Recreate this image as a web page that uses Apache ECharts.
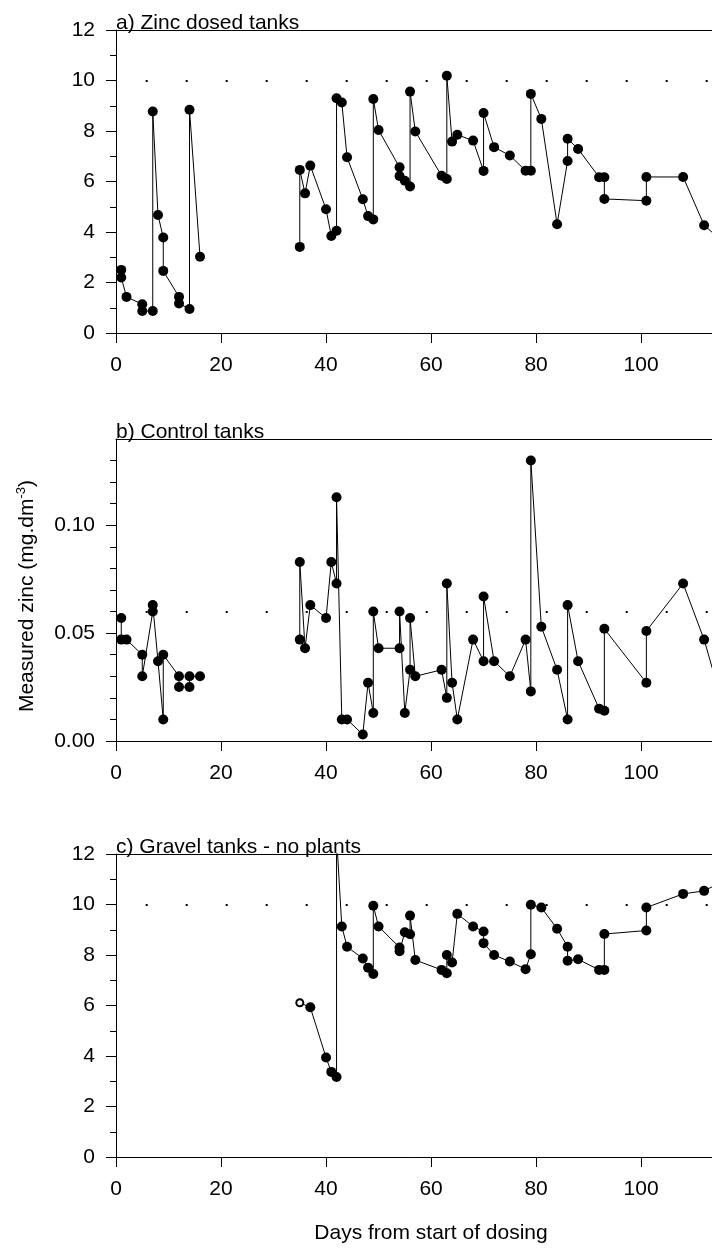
<!DOCTYPE html>
<html><head><meta charset="utf-8">
<script src="https://cdn.jsdelivr.net/npm/echarts@6/dist/echarts.min.js"></script>
<style>html,body{margin:0;padding:0;background:#fff}#c{width:712px;height:1250px}</style>
</head><body><div id="c"></div>
<script>
// ---- data ----
const xTicks = [0, 20, 40, 60, 80, 100];
const yTicksA = [0, 2, 4, 6, 8, 10, 12];
const yMinorA = [1, 3, 5, 7, 9, 11];
const yTicksB = [0, 0.05, 0.10];
const yMinorB = [0.01, 0.02, 0.03, 0.04, 0.06, 0.07, 0.08, 0.09, 0.11, 0.12, 0.13];
const yTicksC = [0, 2, 4, 6, 8, 10, 12];
const yMinorC = [1, 3, 5, 7, 9, 11];
const titles = ['a) Zinc dosed tanks', 'b) Control tanks', 'c) Gravel tanks - no plants'];
const xName = 'Days from start of dosing';
const guideA = 10, guideB = 0.06, guideC = 10;

const daysA = [1,1,2,5,5,7,7,8,9,9,12,12,14,14,16, null,
  35,35,36,37,40,41,42,42,43,44, 47,48,49,49,50,54,54,55,56,56,
  57,62,63,63,64,65,68,70,70,72, 75,78,79,79,81,84,86,86,88,92,
  93,93,101,101,108,112,114];
const zincA = [2.5,2.2,1.43,1.14,0.87,0.87,8.77,4.67,3.78,2.46,1.43,1.17,0.95,8.84,3.02, null,
  3.41,6.46,5.53,6.63,4.9,3.84,4.05,9.3,9.13,6.96, 5.3,4.63,4.5,9.27,8.04,6.56,6.22,6.03,5.8,9.56,
  7.98,6.23,6.1,10.19,7.58,7.85,7.62,6.42,8.71,7.36, 7.03,6.43,6.43,9.47,8.48,4.31,6.81,7.69,7.29,6.17,
  6.17,5.31,5.24,6.18,6.18,4.27,3.9];

const daysB = [1,1,2,5,5,7,7,8,9,9,12,12,14,14,16, null,
  35,35,36,37,40,41,42,42,43,44, 47,48,49,49,50,54,54,55,56,56,
  57,62,63,63,64,65,68,70,70,72, 75,78,79,79,81,84,86,86,88,92,
  93,93,101,101,108,112,114,114];
const zincB = [0.057,0.047,0.047,0.040,0.030,0.060,0.063,0.037,0.010,0.040,0.030,0.025,0.025,0.030,0.030, null,
  0.047,0.083,0.043,0.063,0.057,0.083,0.073,0.113,0.010,0.010, 0.003,0.027,0.013,0.060,0.043,0.043,0.060,0.013,0.033,0.057,
  0.030,0.033,0.020,0.073,0.027,0.010,0.047,0.037,0.067,0.037, 0.030,0.047,0.023,0.130,0.053,0.033,0.010,0.063,0.037,0.015,
  0.014,0.052,0.027,0.051,0.073,0.047,0.030,0.106];

const daysC = [35,37,40,41,42,42,43,44,47,48, 49,49,50,54,54,55,56,56,57,62,
  63,63,64,65,68,70,70,72,75,78, 79,79,81,84,86,86,88,92,93,93, 101,101,108,112,114];
const zincC = [6.11,5.93,3.94,3.37,3.17,12.7,9.13,8.33,7.86,7.5, 7.25,9.95,9.13,8.3,8.15,8.9,8.82,9.56,7.8,7.41,
  7.28,8.0,7.7,9.63,9.13,8.93,8.47,8.0,7.74,7.44, 8.03,9.99,9.88,9.04,8.33,7.77,7.83,7.41,7.41,8.83,
  8.97,9.88,10.42,10.54,10.75];
const openIdxC = [0]; // open (hollow) marker

// ---- build ----
const FONT = 'Liberation Sans';
const FS = 21;
const XMAX = 113.5;
const gridDefs = [{top: 30, height: 303}, {top: 439, height: 302}, {top: 854, height: 303}];
const yDefs = [
  {max: 12, ticks: yTicksA, minor: yMinorA, fmt: v => String(v)},
  {max: 0.14, ticks: yTicksB, minor: yMinorB, fmt: v => Number(v).toFixed(2)},
  {max: 12, ticks: yTicksC, minor: yMinorC, fmt: v => String(v)}
];
const panels = [
  {days: daysA, vals: zincA, guide: guideA, open: []},
  {days: daysB, vals: zincB, guide: guideB, open: []},
  {days: daysC, vals: zincC, guide: guideC, open: openIdxC}
];

const grid = [], xAxis = [], yAxis = [], series = [], graphic = [];
gridDefs.forEach((g, i) => {
  grid.push({left: 116, right: 0, top: g.top, height: g.height});
  const line = {show: true, onZero: false, lineStyle: {color: '#000', width: 1}};
  xAxis.push({gridIndex: i, type: 'value', min: 0, max: XMAX, position: 'bottom',
    axisLine: line,
    axisTick: {show: true, length: 10, customValues: xTicks, lineStyle: {color: '#000', width: 1}},
    axisLabel: {customValues: xTicks, margin: 22, fontSize: FS, fontFamily: FONT, color: '#000'},
    splitLine: {show: false}});
  xAxis.push({gridIndex: i, type: 'value', min: 0, max: XMAX, position: 'top',
    axisLine: line, axisTick: {show: false}, axisLabel: {show: false}, splitLine: {show: false}});
  const yd = yDefs[i];
  yAxis.push({gridIndex: i, type: 'value', min: 0, max: yd.max, position: 'left',
    axisLine: line,
    axisTick: {show: true, length: 10, customValues: yd.ticks, lineStyle: {color: '#000', width: 1}},
    axisLabel: {customValues: yd.ticks, margin: 21, fontSize: FS, fontFamily: FONT, color: '#000', formatter: yd.fmt},
    splitLine: {show: false}});
  yAxis.push({gridIndex: i, type: 'value', min: 0, max: yd.max, position: 'left',
    axisLine: {show: false, onZero: false},
    axisTick: {show: true, length: 6, customValues: yd.minor, lineStyle: {color: '#000', width: 1}},
    axisLabel: {show: false}, splitLine: {show: false}});

  const p = panels[i];
  const data = p.days.map((d, k) => {
    const v = p.vals[k];
    if (d === null || v === null) return ['-', '-'];
    if (p.open.indexOf(k) >= 0) {
      return {value: [d, v], symbol: 'emptyCircle', symbolSize: 7,
        itemStyle: {color: '#000', borderColor: '#000', borderWidth: 1}};
    }
    return [d, v];
  });
  series.push({type: 'line', xAxisIndex: 2 * i, yAxisIndex: 2 * i, data,
    symbol: 'circle', symbolSize: 10, showAllSymbol: true, connectNulls: false, clip: true,
    itemStyle: {color: '#000'}, lineStyle: {color: '#000', width: 1}, silent: true,
    emphasis: {disabled: true},
    markLine: {silent: true, symbol: ['none', 'none'], label: {show: false},
      emphasis: {disabled: true},
      lineStyle: {color: '#000', width: 2, type: [2, 38], dashOffset: 10.3, opacity: 1},
      data: [{yAxis: p.guide}]}});

  graphic.push({type: 'text', x: 116, y: g.top + 4, silent: true,
    style: {text: titles[i], fontSize: FS, fontFamily: FONT, fill: '#000', align: 'left', verticalAlign: 'bottom'}});
});

graphic.push({type: 'text', x: 27, y: 596, rotation: Math.PI / 2, silent: true,
  style: {text: 'Measured zinc (mg.dm{sup|-3})', fontSize: FS, fontFamily: FONT, fill: '#000',
    align: 'center', verticalAlign: 'middle', lineHeight: 24,
    rich: {sup: {fontSize: 13, fontFamily: FONT, fill: '#000', verticalAlign: 'top', lineHeight: 24}}}});
graphic.push({type: 'text', x: 431, y: 1233, silent: true,
  style: {text: xName, fontSize: FS, fontFamily: FONT, fill: '#000', align: 'center', verticalAlign: 'middle'}});

const chart = echarts.init(document.getElementById('c'), null, {renderer: 'canvas'});
chart.setOption({animation: false, backgroundColor: '#fff', grid, xAxis, yAxis, series, graphic});
</script></body></html>
